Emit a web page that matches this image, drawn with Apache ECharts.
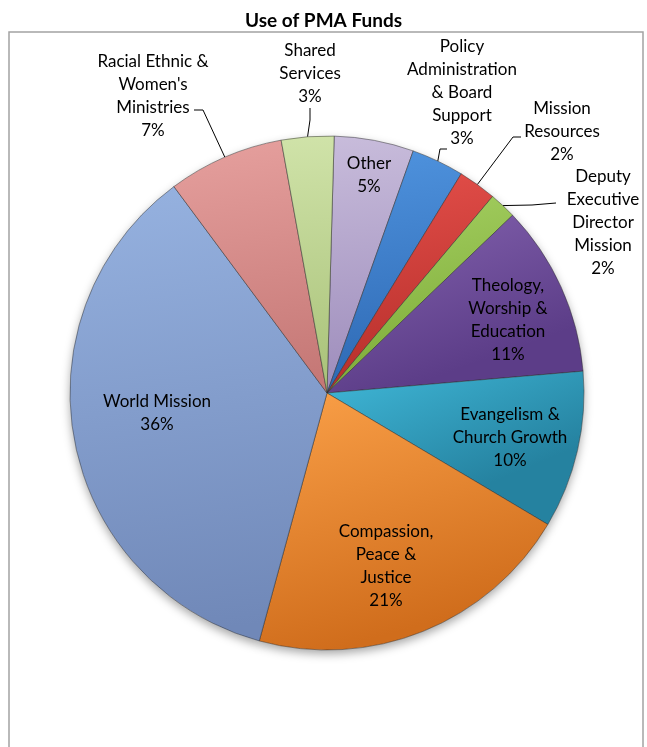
<!DOCTYPE html>
<html>
<head>
<meta charset="utf-8">
<title>Use of PMA Funds</title>
<script src="https://cdn.jsdelivr.net/npm/echarts@6/dist/echarts.min.js"></script>
<style>
  html, body { margin: 0; padding: 0; background: #fff; }
  #chart { width: 647px; height: 747px; }
</style>
</head>
<body>
<div id="chart"></div>
<script>
// Budget categories, clockwise from the top of the pie
const categories = [
  'Other',
  'Policy\nAdministration\n& Board\nSupport',
  'Mission\nResources',
  'Deputy\nExecutive\nDirector\nMission',
  'Theology,\nWorship &\nEducation',
  'Evangelism &\nChurch Growth',
  'Compassion,\nPeace &\nJustice',
  'World Mission',
  "Racial Ethnic &\nWomen's\nMinistries",
  'Shared\nServices'
];

// Share of funds (percent)
const shares = [5.0, 3.3, 2.4, 1.7, 10.8, 9.9, 20.7, 35.6, 7.3, 3.3];

// Slice fills, light (top) to dark (bottom)
const sliceColors = [
  ['#c8bcdb', '#9d8cbb'],
  ['#4f93de', '#2d68b3'],
  ['#e44f4a', '#b52e2a'],
  ['#a6d062', '#7cab38'],
  ['#8564b0', '#5c3d88'],
  ['#40b8d8', '#2582a0'],
  ['#faa048', '#d06d1c'],
  ['#96b2e0', '#7088b8'],
  ['#e6a09e', '#c57876'],
  ['#d0e3a9', '#a8c178']
];

// Slices whose labels sit outside with a leader line
const outsideLabel = [false, true, true, true, false, false, false, false, true, true];

// Label block centres
const labelSpots = [
  [369, 175], [462, 93], [562, 132], [603, 223], [508, 320],
  [510, 438], [386, 566], [157, 413], [153, 96], [310, 74]
];

// Leader line bends (after the point on the pie edge)
const leaderBends = [
  null,
  [[440, 149], [447, 149]],
  [[513, 137], [521, 137]],
  [[532, 205], [556, 203]],
  null, null, null, null,
  [[203, 110], [194, 110]],
  [[310, 120], [310, 108]]
];

const pieCenter = [327, 393];
const pieRadius = 257;
const startAngle = 88.4;
const fontFamily = 'Lato, "Open Sans", "Noto Sans", sans-serif';

const chart = echarts.init(document.getElementById('chart'), null, { renderer: 'canvas' });

const mainData = categories.map((name, i) => ({
  name: name,
  value: shares[i],
  itemStyle: {
    color: new echarts.graphic.LinearGradient(0, 0, 0.25, 1, [
      { offset: 0, color: sliceColors[i][0] },
      { offset: 1, color: sliceColors[i][1] }
    ])
  },
  label: { position: outsideLabel[i] ? 'outside' : 'inside' },
  labelLine: { show: outsideLabel[i] }
}));

const shadowData = categories.map((name, i) => ({ name: name, value: shares[i] }));

chart.setOption({
  animation: false,
  backgroundColor: '#ffffff',
  title: {
    text: 'Use of PMA Funds',
    left: 'center',
    top: 6,
    textStyle: { fontFamily: fontFamily, fontSize: 19, fontWeight: 'bold', color: '#000' }
  },
  graphic: [{
    type: 'rect',
    shape: { x: 9, y: 32, width: 634, height: 740 },
    style: { fill: 'none', stroke: '#a3a3a3', lineWidth: 1.5 },
    silent: true,
    z: 0
  }],
  series: [
    {
      // soft drop shadow under the pie
      type: 'pie',
      z: 1,
      silent: true,
      center: pieCenter,
      radius: pieRadius,
      startAngle: startAngle,
      clockwise: true,
      label: { show: false },
      labelLine: { show: false },
      itemStyle: {
        color: '#ffffff',
        shadowBlur: 10,
        shadowColor: 'rgba(0,0,0,0.35)',
        shadowOffsetY: 4
      },
      emphasis: { disabled: true },
      data: shadowData
    },
    {
      type: 'pie',
      z: 2,
      center: pieCenter,
      radius: pieRadius,
      startAngle: startAngle,
      clockwise: true,
      avoidLabelOverlap: false,
      emphasis: { disabled: true },
      itemStyle: {
        borderColor: 'rgba(45,45,45,0.55)',
        borderWidth: 0.9
      },
      label: {
        show: true,
        fontFamily: fontFamily,
        fontSize: 17,
        lineHeight: 23,
        color: '#000',
        align: 'center',
        formatter: p => p.name + '\n' + Math.round(p.percent) + '%'
      },
      labelLine: {
        show: true,
        length: 20,
        length2: 10,
        lineStyle: { color: '#000', width: 1 }
      },
      labelLayout: function (p) {
        const spot = labelSpots[p.dataIndex];
        const out = { x: spot[0], y: spot[1], align: 'center', verticalAlign: 'middle' };
        const bend = leaderBends[p.dataIndex];
        if (bend && p.labelLinePoints) {
          out.labelLinePoints = [p.labelLinePoints[0], bend[0], bend[1]];
        }
        return out;
      },
      data: mainData
    }
  ]
});
</script>
</body>
</html>
